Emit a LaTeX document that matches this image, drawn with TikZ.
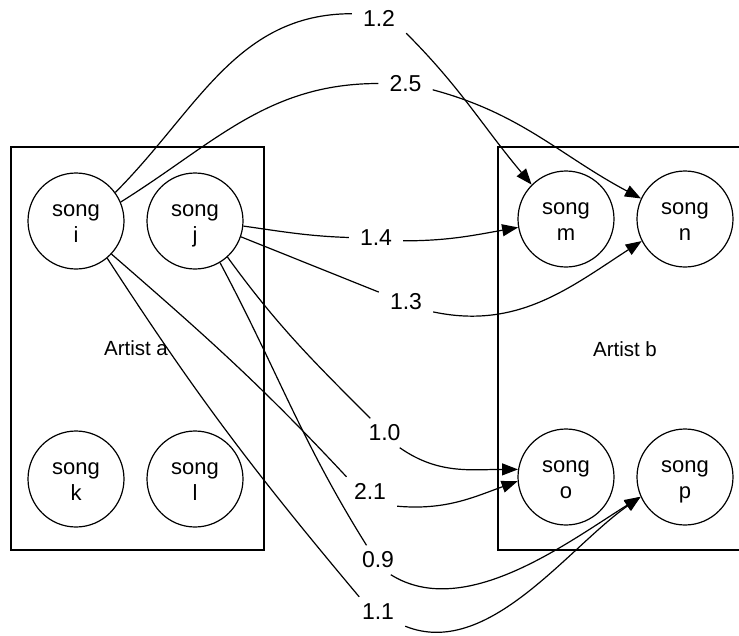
\documentclass[tikz,border=0pt]{standalone}
\usepackage{fontspec}
\setmainfont{Liberation Sans}
\usetikzlibrary{arrows.meta}
% two-line song caption, set slightly below the circle centre
\newcommand\songtext[1]{\raisebox{-3pt}[\height][\depth]{\begin{tabular}{@{}c@{}}song\\#1\end{tabular}}}
\begin{document}
\begin{tikzpicture}[x=1pt,y=1pt,
  song/.style={draw, circle, line width=1.2pt, minimum size=96pt, inner sep=0pt,
    font=\fontsize{22}{26}\selectfont},
  group/.style={draw, line width=1.2pt, inner sep=0pt, minimum height=403pt},
  weight/.style={minimum width=54pt, minimum height=29pt, inner sep=0pt,
    font=\fontsize{23}{27}\selectfont},
  artist/.style={font=\fontsize{20.5}{24}\selectfont},
  link/.style={line width=1.2pt},
  arc/.style={link, -{Triangle[length=16pt,width=12pt]}}
]
\useasboundingbox (0,0) rectangle (739,-635);

% artist groups
\node[group, minimum width=253pt] (ga) at (137.5,-348.5) {};
\node[group, minimum width=262pt] (gb) at (629,-348.5) {};
\node[artist] (ta) at (136,-348) {Artist a};
\node[artist] (tb) at (625,-349) {Artist b};

% songs
\node[song] (i) at (76,-221) {\songtext{i}};
\node[song] (j) at (195,-221) {\songtext{j}};
\node[song] (k) at (76,-479) {\songtext{k}};
\node[song] (l) at (195,-479) {\songtext{l}};
\node[song] (m) at (566,-219) {\songtext{m}};
\node[song] (n) at (685,-219) {\songtext{n}};
\node[song] (o) at (566,-477) {\songtext{o}};
\node[song] (p) at (685,-477) {\songtext{p}};

% edge weights
\node[weight] (w12) at (379,-18.5) {1.2};
\node[weight] (w25) at (405.5,-83.5) {2.5};
\node[weight] (w14) at (376,-237.5) {1.4};
\node[weight] (w13) at (406,-302) {1.3};
\node[weight] (w10) at (384.5,-433) {1.0};
\node[weight] (w21) at (370,-491.5) {2.1};
\node[weight] (w09) at (378,-560) {0.9};
\node[weight] (w11) at (378,-611.5) {1.1};

% i -> m
\draw[link] (i.36) to[out=45,in=180] (w12.170);
\draw[arc] (w12.south east) to[out=-45,in=130] (m.135);
% i -> n
\draw[link] (i.23) to[out=32,in=180] (w25.west);
\draw[arc] (w25.-13) to[out=-15,in=152] (n.155);
% j -> m
\draw[link] (j.-6) to[out=-8,in=178] (w14.west);
\draw[arc] (w14.-7) to[out=0,in=190] (m.190);
% j -> n
\draw[link] (j.-19) -- (w13.160);
\draw[arc] (w13.-20) to[out=-12,in=213] (n.207);
% j -> o
\draw[link] (j.-48) to[out=-54,in=135] (w10.134);
\draw[arc] (w10.-44) to[out=-35,in=180] (o.171);
% i -> o
\draw[link] (i.-43) to[out=-41,in=133] (w21.148);
\draw[arc] (w21.south east) to[out=-5,in=200] (o.185);
% j -> p
\draw[link] (j.-59) to[out=-62,in=122] (w09.128);
\draw[arc] (w09.-49) to[out=-32,in=212,looseness=0.85] (p.204);
% i -> p
\draw[link] (i.-50) to[out=-57,in=130] (w11.142);
\draw[arc] (w11.south east) to[out=-22,in=215,looseness=0.85] (p.204);
\end{tikzpicture}
\end{document}
